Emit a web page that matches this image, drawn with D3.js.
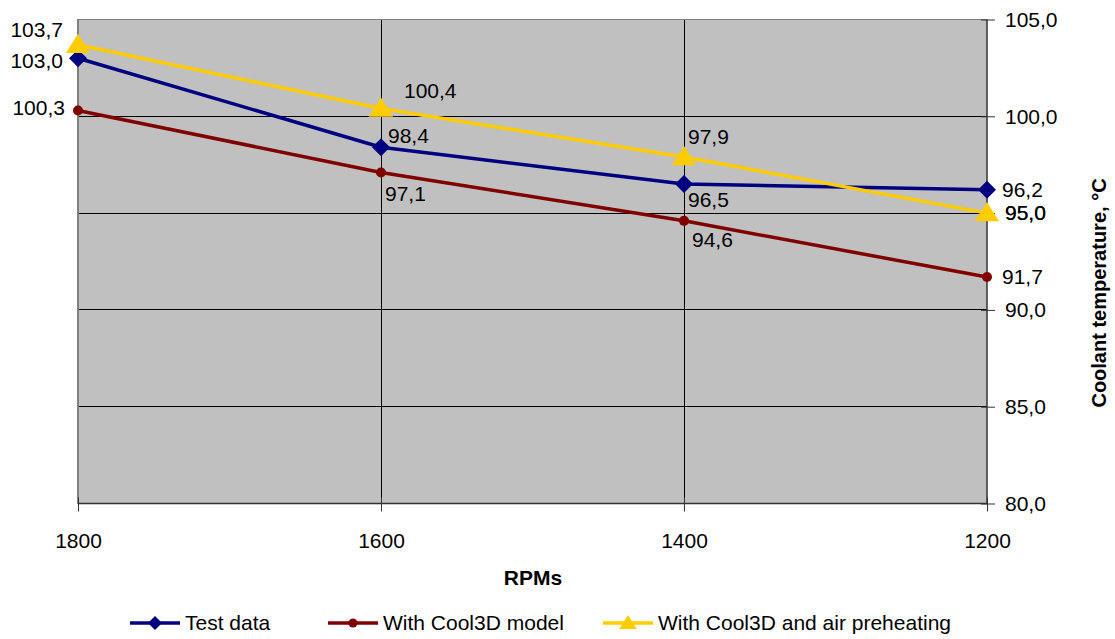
<!DOCTYPE html>
<html><head><meta charset="utf-8">
<script src="https://cdn.jsdelivr.net/npm/d3@7"></script>
<style>
html,body{margin:0;padding:0;background:#fff;}
svg{display:block;font-family:"Liberation Sans",Arial,Helvetica,sans-serif;}
</style></head>
<body>
<svg id="chart" width="1115" height="639"></svg>
<script>
// ---- data ----
const categories = ["1800", "1600", "1400", "1200"];
const testData = [103.0, 98.4, 96.5, 96.2];
const cool3DModel = [100.3, 97.1, 94.6, 91.7];
const cool3DPreheat = [103.7, 100.4, 97.9, 95.0];
const yTicks = [80, 85, 90, 95, 100, 105];
const seriesNames = ["Test data", "With Cool3D model", "With Cool3D and air preheating"];
const xTitle = "RPMs";
const yTitle = "Coolant temperature,  \u00B0C";

// label placement (styling, not data): [dx, dy, anchor]
const labelPlace = [
  [[-15, 3, "end"], [7, -11, "start"], [4, 16, "start"], [15, 0, "start"]],
  [[-13, -2, "end"], [4, 22, "start"], [8, 19, "start"], [15, 0, "start"]],
  [[-15, -14, "end"], [23, -17, "start"], [4, -20, "start"], [18, 0, "start"]]
];

const series = [
  {name: seriesNames[0], values: testData, color: "#000080", marker: "diamond"},
  {name: seriesNames[1], values: cool3DModel, color: "#800000", marker: "circle"},
  {name: seriesNames[2], values: cool3DPreheat, color: "#FFCC00", marker: "triangle"}
];

const svg = d3.select("#chart");
const L = 78, R = 987, T = 19.5, B = 503.5;
const x = d3.scalePoint().domain(categories).range([L, R]);
const y = d3.scaleLinear().domain([80, 105]).range([B, T]);
const FS = 21;

// plot background
svg.append("rect").attr("x", L).attr("y", T).attr("width", R - L).attr("height", B - T).attr("fill", "#C0C0C0");

// horizontal gridlines
svg.append("g").selectAll("line").data(yTicks.filter(t => t > 80 && t < 105)).join("line")
  .attr("x1", L).attr("x2", R).attr("y1", d => y(d)).attr("y2", d => y(d))
  .attr("stroke", "#000").attr("stroke-width", 1).attr("shape-rendering", "crispEdges");
// vertical gridlines
svg.append("g").selectAll("line").data(categories.slice(1, -1)).join("line")
  .attr("x1", d => x(d)).attr("x2", d => x(d)).attr("y1", T).attr("y2", B)
  .attr("stroke", "#000").attr("stroke-width", 1).attr("shape-rendering", "crispEdges");

// plot border left/top
svg.append("path").attr("d", `M${L},${B}V${T}H${R}`).attr("fill", "none")
  .attr("stroke", "#808080").attr("stroke-width", 1.5).attr("shape-rendering", "crispEdges");

// x axis (bottom)
const xAxis = svg.append("g").attr("transform", `translate(0,${B})`)
  .call(d3.axisBottom(x).tickSize(8).tickPadding(22));
xAxis.select(".domain").attr("d", `M${L},0H${R}`).attr("stroke", "#333").attr("stroke-width", 1.5);
xAxis.selectAll(".tick line").attr("y1", -6).attr("y2", 8).attr("stroke", "#333");
xAxis.selectAll(".tick text").attr("font-size", FS).attr("font-family", null).attr("fill", "#000");

// y axis (right)
const yAxis = svg.append("g").attr("transform", `translate(${R},0)`)
  .call(d3.axisRight(y).tickValues(yTicks).tickSize(8).tickPadding(10).tickFormat(d => d3.format(".1f")(d).replace(".", ",")));
yAxis.select(".domain").attr("d", `M0,${T}V${B}`).attr("stroke", "#333").attr("stroke-width", 1.5);
yAxis.selectAll(".tick line").attr("x1", -6).attr("x2", 8).attr("stroke", "#333");
yAxis.selectAll(".tick text").attr("font-size", FS).attr("font-family", null).attr("fill", "#000");

// axis titles
svg.append("text").attr("x", 533).attr("y", 577).attr("text-anchor", "middle").attr("dominant-baseline", "central")
  .attr("font-size", FS).attr("font-weight", "bold").text(xTitle);
svg.append("text").attr("transform", "translate(1099,293) rotate(-90)").attr("text-anchor", "middle")
  .attr("dominant-baseline", "central").attr("font-size", 20).attr("font-weight", "bold").text(yTitle);

// marker symbols
function markerPath(type, s) {
  if (type === "diamond") return `M0,${-s}L${s},0L0,${s}L${-s},0Z`;
  if (type === "triangle") return `M0,${-s}L${s * 1.1},${s * 0.75}L${-s * 1.1},${s * 0.75}Z`;
  return null;
}
function drawMarker(g, type, color, s) {
  if (type === "circle") g.append("circle").attr("r", s).attr("fill", color);
  else g.append("path").attr("d", markerPath(type, s)).attr("fill", color);
}

const line = d3.line().x((d, i) => x(categories[i])).y(d => y(d));

series.forEach((s, si) => {
  const g = svg.append("g");
  g.append("path").datum(s.values).attr("d", line).attr("fill", "none")
    .attr("stroke", s.color).attr("stroke-width", 3.5).attr("stroke-linejoin", "round");
  s.values.forEach((v, i) => {
    const m = g.append("g").attr("transform", `translate(${x(categories[i])},${y(v)})`);
    drawMarker(m, s.marker, s.color, s.marker === "circle" ? 5 : (s.marker === "diamond" ? 9 : 11));
  });
});

// data labels
series.forEach((s, si) => {
  svg.append("g").selectAll("text").data(s.values).join("text")
    .attr("x", (d, i) => x(categories[i]) + labelPlace[si][i][0])
    .attr("y", (d, i) => y(d) + labelPlace[si][i][1])
    .attr("dy", "0.32em")
    .attr("text-anchor", (d, i) => labelPlace[si][i][2])
    .attr("font-size", FS).attr("fill", "#000")
    .text(d => d3.format(".1f")(d).replace(".", ","));
});

// legend
const legendX = [130, 328, 603];
const legendY = 623;
series.forEach((s, si) => {
  const g = svg.append("g").attr("transform", `translate(${legendX[si]},${legendY})`);
  g.append("line").attr("x1", 0).attr("x2", 50).attr("stroke", s.color).attr("stroke-width", 3.5);
  const m = g.append("g").attr("transform", "translate(25,0)");
  drawMarker(m, s.marker, s.color, s.marker === "circle" ? 4.5 : (s.marker === "diamond" ? 7 : 8));
  g.append("text").attr("x", 55).attr("y", 0).attr("dy", "0.32em")
    .attr("font-size", FS).attr("fill", "#000").text(s.name);
});
</script>
</body></html>
